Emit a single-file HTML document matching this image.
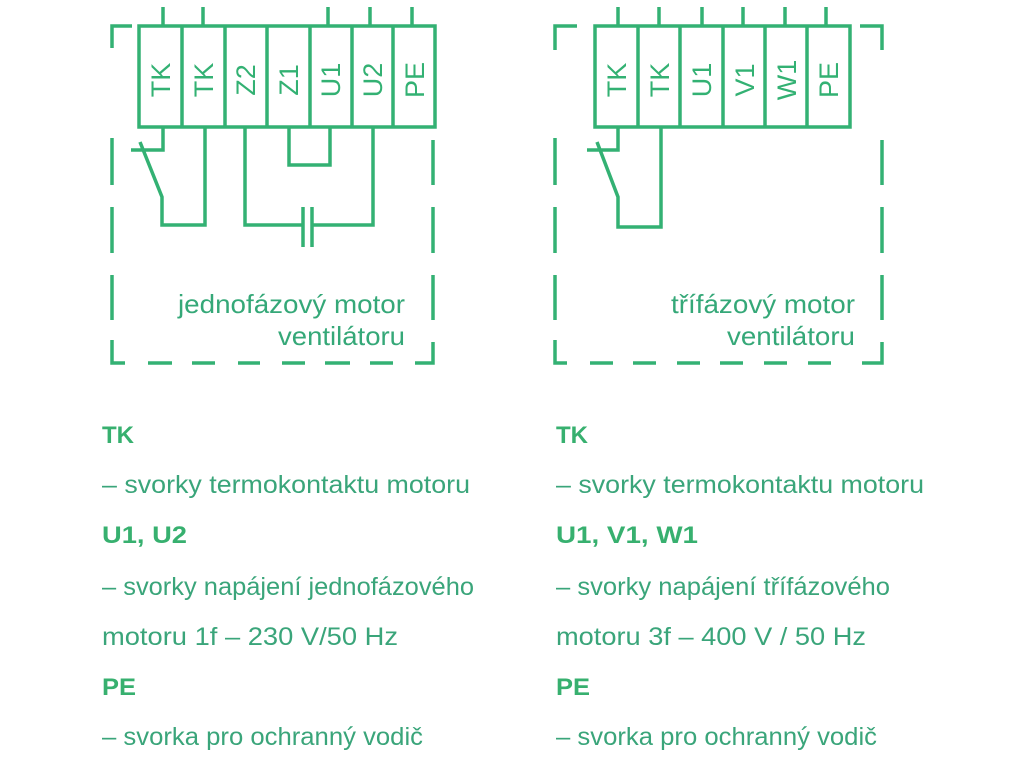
<!DOCTYPE html>
<html><head><meta charset="utf-8"><style>
html,body{margin:0;padding:0;background:#fff;}
svg{display:block;}
.l{stroke:#33b173;stroke-width:3.5;fill:none;}
.d{stroke:#33b173;stroke-width:3.5;fill:none;stroke-dasharray:23 21;}
.t{fill:#33b173;font-family:"Liberation Sans",sans-serif;font-size:27px;}
.c{fill:#35a878;font-family:"Liberation Sans",sans-serif;font-size:26px;}
.b{fill:#37b06f;font-family:"Liberation Sans",sans-serif;font-size:24px;font-weight:bold;}
.p{fill:#3aa57a;font-family:"Liberation Sans",sans-serif;font-size:25px;}
</style></head><body>
<svg width="1024" height="768" viewBox="0 0 1024 768" xmlns="http://www.w3.org/2000/svg">
<!-- LEFT DIAGRAM -->
<g>
<path class="l" d="M112 48 V26 H132"/>
<path class="l" d="M112 138V185 M112 207V253 M112 275V320 M112 340V363H125"/>
<path class="l" d="M433 140V185 M433 207V253 M433 275V320 M433 342V363H415"/>
<path class="l" d="M148 363H172 M192 363H215 M238 363H260 M282 363H305 M325 363H350 M370 363H393"/>
<rect class="l" x="139" y="26" width="296" height="101"/>
<path class="l" d="M182 26V127 M225 26V127 M267 26V127 M310 26V127 M352 26V127 M393 26V127"/>
<path class="l" d="M163 7V26 M203 7V26 M328 7V26 M370 7V26 M412 7V26"/>
<path class="l" d="M163 127V150H131 M140 142L162 197V225H205V127"/>
<path class="l" d="M245 127V225H303 M313 225H373V127 M303 207V247 M312 207V247"/>
<path class="l" d="M289 127V165H330V127"/>
<g class="t">
<text transform="translate(170,80) rotate(-90)" text-anchor="middle">TK</text>
<text transform="translate(213,80) rotate(-90)" text-anchor="middle">TK</text>
<text transform="translate(255,80) rotate(-90)" text-anchor="middle">Z2</text>
<text transform="translate(298,80) rotate(-90)" text-anchor="middle">Z1</text>
<text transform="translate(340,80) rotate(-90)" text-anchor="middle">U1</text>
<text transform="translate(382,80) rotate(-90)" text-anchor="middle">U2</text>
<text transform="translate(424,80) rotate(-90)" text-anchor="middle">PE</text>
</g>
<text class="c" x="178" y="313" textLength="227" lengthAdjust="spacingAndGlyphs">jednofázový motor</text>
<text class="c" x="278" y="345" textLength="127" lengthAdjust="spacingAndGlyphs">ventilátoru</text>
</g>
<!-- RIGHT DIAGRAM -->
<g>
<path class="l" d="M555 50 V26 H577"/>
<path class="l" d="M860 26 H882 V50"/>
<path class="l" d="M555 138V185 M555 207V253 M555 275V320 M555 340V363H567"/>
<path class="l" d="M882 140V185 M882 207V253 M882 275V320 M882 342V363H862"/>
<path class="l" d="M590 363H613 M633 363H656 M677 363H700 M720 363H743 M764 363H787 M808 363H831"/>
<rect class="l" x="595" y="26" width="255" height="101"/>
<path class="l" d="M638 26V127 M680 26V127 M723 26V127 M765 26V127 M807 26V127"/>
<path class="l" d="M618 7V26 M659 7V26 M702 7V26 M743 7V26 M785 7V26 M826 7V26"/>
<path class="l" d="M618 127V150H587 M597 142L618 197V227H661V127"/>
<g class="t">
<text transform="translate(626,80) rotate(-90)" text-anchor="middle">TK</text>
<text transform="translate(669,80) rotate(-90)" text-anchor="middle">TK</text>
<text transform="translate(711,80) rotate(-90)" text-anchor="middle">U1</text>
<text transform="translate(754,80) rotate(-90)" text-anchor="middle">V1</text>
<text transform="translate(796,80) rotate(-90)" text-anchor="middle">W1</text>
<text transform="translate(838,80) rotate(-90)" text-anchor="middle">PE</text>
</g>
<text class="c" x="671" y="313" textLength="184" lengthAdjust="spacingAndGlyphs">třífázový motor</text>
<text class="c" x="727" y="345" textLength="128" lengthAdjust="spacingAndGlyphs">ventilátoru</text>
</g>
<!-- LEFT TEXT -->
<text class="b" x="102" y="443" textLength="32" lengthAdjust="spacingAndGlyphs">TK</text>
<text class="p" x="102" y="493" textLength="368" lengthAdjust="spacingAndGlyphs">– svorky termokontaktu motoru</text>
<text class="b" x="102" y="543" textLength="85" lengthAdjust="spacingAndGlyphs">U1, U2</text>
<text class="p" x="102" y="595" textLength="372" lengthAdjust="spacingAndGlyphs">– svorky napájení jednofázového</text>
<text class="p" x="102" y="645" textLength="296" lengthAdjust="spacingAndGlyphs">motoru 1f – 230 V/50 Hz</text>
<text class="b" x="102" y="695" textLength="34" lengthAdjust="spacingAndGlyphs">PE</text>
<text class="p" x="102" y="745" textLength="321" lengthAdjust="spacingAndGlyphs">– svorka pro ochranný vodič</text>
<!-- RIGHT TEXT -->
<text class="b" x="556" y="443" textLength="32" lengthAdjust="spacingAndGlyphs">TK</text>
<text class="p" x="556" y="493" textLength="368" lengthAdjust="spacingAndGlyphs">– svorky termokontaktu motoru</text>
<text class="b" x="556" y="543" textLength="142" lengthAdjust="spacingAndGlyphs">U1, V1, W1</text>
<text class="p" x="556" y="595" textLength="334" lengthAdjust="spacingAndGlyphs">– svorky napájení třífázového</text>
<text class="p" x="556" y="645" textLength="310" lengthAdjust="spacingAndGlyphs">motoru 3f – 400 V / 50 Hz</text>
<text class="b" x="556" y="695" textLength="34" lengthAdjust="spacingAndGlyphs">PE</text>
<text class="p" x="556" y="745" textLength="321" lengthAdjust="spacingAndGlyphs">– svorka pro ochranný vodič</text>
</svg>
</body></html>
